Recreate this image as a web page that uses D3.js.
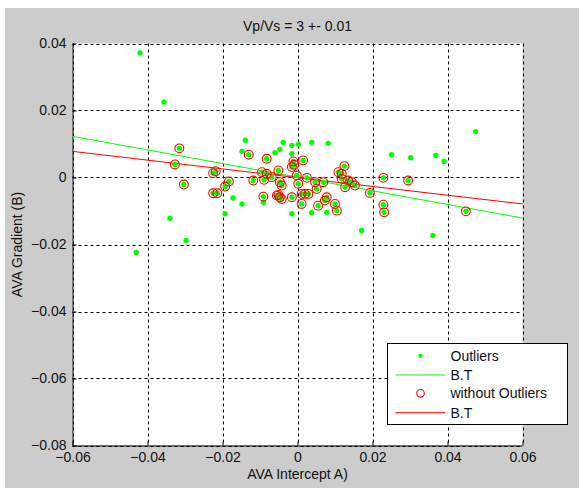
<!DOCTYPE html>
<html>
<head>
<meta charset="utf-8">
<script src="https://cdn.jsdelivr.net/npm/d3@7"></script>
<style>
	body { margin: 0; background: #fff; }
	text { font-family: "Liberation Sans", Arial, sans-serif; fill: #111; }
</style>
</head>
<body>
<div class="chart"></div>
<script>
	// points kept in the fit (circled)
	var keptX = [-0.0315, -0.0327, -0.0303, -0.0225, -0.0218, -0.0225, -0.0214, -0.0193, -0.0183, -0.0130,
		-0.0118, -0.0095, -0.0089, -0.0091, -0.0082, -0.0082, -0.0069, -0.0051, -0.0047, -0.0042,
		-0.0051, -0.0047, -0.0055, -0.0042, -0.0015, -0.0011, -0.0009, -0.0015, 0.0015, -0.0002,
		0.0025, 0.0002, 0.0011, 0.0020, 0.0029, 0.0011, 0.0047, 0.0051, 0.0069, 0.0055,
		0.0078, 0.0073, 0.0100, 0.0105, 0.0109, 0.0125, 0.0118, 0.0135, 0.0145, 0.0153,
		0.0127, 0.0229, 0.0295, 0.0193, 0.0229, 0.0231, 0.0449, 0.0118];
	var keptY = [0.0087, 0.0039, -0.0021, 0.0013, 0.0019, -0.0047, -0.0047, -0.0027, -0.0012, 0.0068,
		-0.0009, 0.0016, -0.0007, -0.0057, 0.0056, 0.0011, 0.0001, 0.0021, -0.0014, -0.0024,
		-0.0052, -0.0059, -0.0054, -0.0064, -0.0059, 0.0048, 0.0038, 0.0031, 0.0051, 0.0006,
		-0.0001, -0.0019, -0.0049, -0.0049, -0.0049, -0.0079, -0.0014, -0.0034, -0.0014, -0.0084,
		-0.0059, -0.0069, -0.0079, -0.0099, 0.0016, 0.0034, -0.0004, -0.0009, -0.0014, -0.0024,
		-0.0029, -0.0001, -0.0009, -0.0046, -0.0081, -0.0104, -0.0101, 0.0011];

	// points removed as outliers (green only)
	var outX = [-0.0420, -0.0356, -0.0340, -0.0297, -0.0193, -0.0172, -0.0148, -0.0139, -0.0148, -0.0091,
		-0.0060, -0.0047, -0.0038, -0.0015, -0.0015, 0.0003, 0.0038, -0.0015, 0.0038, 0.0078,
		0.0082, 0.0251, 0.0302, 0.0369, 0.0391, 0.0475, 0.0171, 0.0361, -0.0430];
	var outY = [0.0372, 0.0225, -0.0122, -0.0188, -0.0108, -0.0061, -0.0079, 0.0111, 0.0078, -0.0074,
		0.0074, 0.0084, 0.0105, 0.0096, 0.0071, 0.0099, 0.0105, -0.0108, -0.0105, -0.0104,
		0.0102, 0.0068, 0.0059, 0.0066, 0.0048, 0.0137, -0.0158, -0.0173, -0.0224];

	// fitted lines, end points
	var fitAllX = [-0.06, 0.06];
	var fitAllY = [0.0123, -0.0121];
	var fitKeptX = [-0.06, 0.06];
	var fitKeptY = [0.0078, -0.0079];

	var xTicks = [-0.06, -0.04, -0.02, 0, 0.02, 0.04, 0.06];
	var yTicks = [-0.08, -0.06, -0.04, -0.02, 0, 0.02, 0.04];
	var legendLabels = ["Outliers", "B.T", "without Outliers", "B.T"];

	var W = 579, H = 489;
	var GREEN = "#00ff00", RED = "#ff0000";
	var FS = "14px";

	var svg = d3.select("div.chart").append("svg")
		.attr("width", W)
		.attr("height", H);

	// figure background
	svg.append("rect")
		.attr("x", 5).attr("y", 8)
		.attr("width", W - 5).attr("height", 480)
		.attr("fill", "#cccccc");

	var x = d3.scaleLinear().domain([-0.06, 0.06]).range([72.5, 522.5]);
	var y = d3.scaleLinear().domain([-0.08, 0.04]).range([445.5, 43.5]);

	svg.append("rect")
		.attr("x", x(-0.06)).attr("y", y(0.04))
		.attr("width", x(0.06) - x(-0.06))
		.attr("height", y(-0.08) - y(0.04))
		.attr("fill", "#fff");

	function fmt(d) {
		return Math.abs(d) < 1e-9 ? "0" : d3.format(".2f")(d);
	}

	// grid
	var grid = svg.append("g")
		.attr("stroke", "#000")
		.attr("stroke-width", 1)
		.attr("stroke-dasharray", "3,3");
	grid.selectAll("line.gx").data(xTicks).enter().append("line")
		.attr("x1", d => Math.round(x(d)) + 0.5).attr("x2", d => Math.round(x(d)) + 0.5)
		.attr("y1", y(0.04)).attr("y2", y(-0.08));
	grid.selectAll("line.gy").data(yTicks).enter().append("line")
		.attr("y1", d => Math.round(y(d)) + 0.5).attr("y2", d => Math.round(y(d)) + 0.5)
		.attr("x1", x(-0.06)).attr("x2", x(0.06));

	// axes
	var xAxis = svg.append("g")
		.attr("transform", "translate(0," + y(-0.08) + ")")
		.call(d3.axisBottom(x).tickValues(xTicks).tickFormat(fmt).tickSize(-4).tickPadding(7));
	var yAxis = svg.append("g")
		.attr("transform", "translate(" + x(-0.06) + ",0)")
		.call(d3.axisLeft(y).tickValues(yTicks).tickFormat(fmt).tickSize(-4).tickPadding(6));
	[xAxis, yAxis].forEach(function(a) {
		a.select(".domain").attr("stroke", "#000");
		a.selectAll(".tick line").attr("stroke", "#000");
		a.selectAll(".tick text")
			.attr("font-family", "Liberation Sans, Arial, sans-serif")
			.attr("font-size", FS)
			.attr("fill", "#111");
	});
	// no end caps on the domain paths
	xAxis.select(".domain").attr("d", "M" + x(-0.06) + ",0.5H" + x(0.06));
	yAxis.select(".domain").attr("d", "M0.5," + y(0.04) + "V" + y(-0.08));

	var plot = svg.append("g");

	// fit lines
	var line = d3.line().x(d => x(d[0])).y(d => y(d[1]));
	plot.append("path")
		.datum(d3.zip(fitAllX, fitAllY))
		.attr("d", line).attr("fill", "none")
		.attr("stroke", GREEN).attr("stroke-width", 1);
	plot.append("path")
		.datum(d3.zip(fitKeptX, fitKeptY))
		.attr("d", line).attr("fill", "none")
		.attr("stroke", RED).attr("stroke-width", 1);

	// all points green
	var allPts = d3.zip(outX, outY).concat(d3.zip(keptX, keptY));
	plot.selectAll("circle.dot").data(allPts).enter().append("circle")
		.attr("class", "dot")
		.attr("cx", d => x(d[0])).attr("cy", d => y(d[1]))
		.attr("r", 2.7)
		.attr("fill", GREEN);

	// kept points circled
	plot.selectAll("circle.ring").data(d3.zip(keptX, keptY)).enter().append("circle")
		.attr("class", "ring")
		.attr("cx", d => x(d[0])).attr("cy", d => y(d[1]))
		.attr("r", 4.4)
		.attr("fill", "none")
		.attr("stroke", RED)
		.attr("stroke-width", 1.1);

	// title and labels
	svg.append("text")
		.attr("x", x(0)).attr("y", 31)
		.attr("text-anchor", "middle")
		.attr("font-size", FS)
		.text("Vp/Vs = 3 +- 0.01");
	svg.append("text")
		.attr("x", x(0)).attr("y", 479)
		.attr("text-anchor", "middle")
		.attr("font-size", FS)
		.text("AVA Intercept A)");
	svg.append("text")
		.attr("transform", "translate(21.5," + ((y(0.04) + y(-0.08)) / 2) + ") rotate(-90)")
		.attr("text-anchor", "middle")
		.attr("font-size", FS)
		.text("AVA Gradient (B)");

	// legend
	var lg = svg.append("g").attr("transform", "translate(387.5,343.5)");
	lg.append("rect")
		.attr("width", 180).attr("height", 81)
		.attr("fill", "#fff").attr("stroke", "#000");
	var rowY = [12.2, 31.5, 49.8, 69.2];
	legendLabels.forEach(function(t, i) {
		lg.append("text")
			.attr("x", 63).attr("y", rowY[i] + 5)
			.attr("font-size", FS)
			.text(t);
	});
	lg.append("circle").attr("cx", 33).attr("cy", rowY[0]).attr("r", 2.2).attr("fill", GREEN);
	lg.append("line").attr("x1", 8).attr("x2", 57.5)
		.attr("y1", rowY[1]).attr("y2", rowY[1]).attr("stroke", GREEN);
	lg.append("circle").attr("cx", 33).attr("cy", rowY[2]).attr("r", 3.8)
		.attr("fill", "none").attr("stroke", RED).attr("stroke-width", 1.1);
	lg.append("line").attr("x1", 8).attr("x2", 57.5)
		.attr("y1", rowY[3]).attr("y2", rowY[3]).attr("stroke", RED);
</script>
</body>
</html>
